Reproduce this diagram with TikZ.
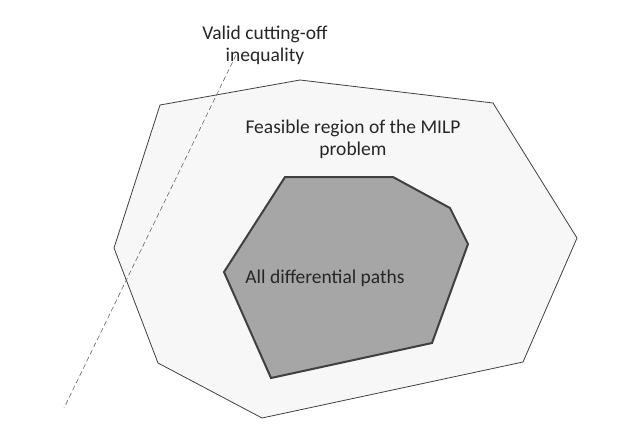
\documentclass[tikz,border=0pt]{standalone}
\usepackage{fontspec}
\setmainfont{Carlito}
\begin{document}
\begin{tikzpicture}[x=1pt,y=-1pt,
  lbl/.style={font=\fontsize{19.5}{22}\selectfont, align=center, text=black!85}]
\useasboundingbox (0,0) rectangle (620,440);
\draw[black!75, fill=black!3, line width=0.8pt] (160,105) -- (300,80) -- (493,103) -- (577,238) -- (523,362) -- (262,418) -- (158,363) -- (114,248) -- cycle;
\draw[black!75, fill=black!35, line width=2pt] (285,177) -- (393,177) -- (450,208) -- (468,244) -- (432,343) -- (271,378) -- (224,272) -- cycle;
\coordinate (ltop) at (236,55);
\coordinate (lbot) at (64,408);
\draw[black!60, dashed, dash pattern=on 5pt off 3pt, line width=0.6pt] (ltop) -- (lbot);
\node[lbl] (cut) at (265,45) {Valid cutting-off\\inequality};
\node[lbl] (feas) at (353,139) {Feasible region of the MILP\\problem};
\node[lbl] (paths) at (325,278) {All differential paths};
\end{tikzpicture}
\end{document}
